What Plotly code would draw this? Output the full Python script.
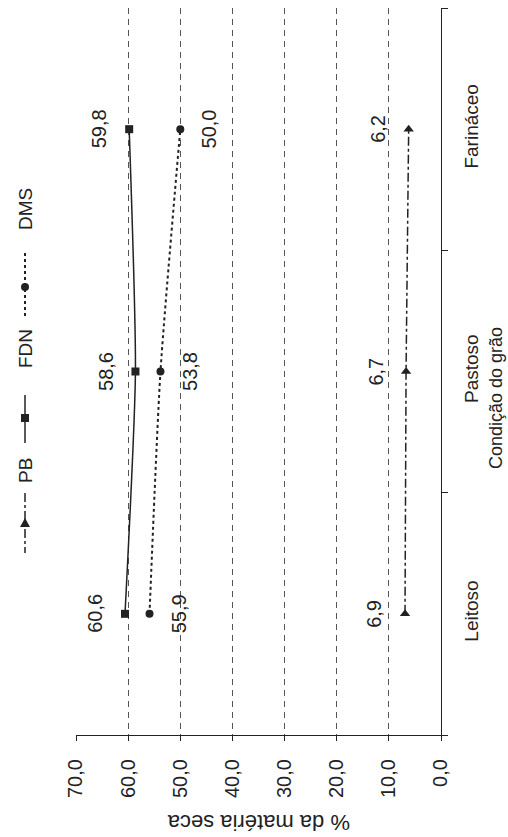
import plotly.graph_objects as go

categories = ["Leitoso", "Pastoso", "Farináceo"]
pb = [6.9, 6.7, 6.2]
fdn = [60.6, 58.6, 59.8]
dms = [55.9, 53.8, 50.0]
tick_vals = [0, 10, 20, 30, 40, 50, 60, 70]
tick_text = ["0,0", "10,0", "20,0", "30,0", "40,0", "50,0", "60,0", "70,0"]

W, H = 508, 837
L, R, T, B = 76, 441, 8, 735
def px(x):
    return (x - L) / (R - L)
def py(y):
    return (B - y) / (B - T)

FONT = "Arial, Liberation Sans, sans-serif"
INK = "#222222"

fig = go.Figure()
fig.add_trace(go.Scatter(x=fdn, y=categories, mode="lines+markers", name="FDN",
                         line=dict(color=INK, width=1.5, shape="spline", smoothing=0.6),
                         marker=dict(symbol="square", size=8, color=INK)))
fig.add_trace(go.Scatter(x=dms, y=categories, mode="lines+markers", name="DMS",
                         line=dict(color=INK, width=2, dash="dot", shape="spline", smoothing=0.6),
                         marker=dict(symbol="circle", size=8, color=INK)))
fig.add_trace(go.Scatter(x=pb, y=categories, mode="lines+markers", name="PB",
                         line=dict(color=INK, width=1.5, dash="dashdot"),
                         marker=dict(symbol="triangle-up", size=9, color=INK)))

annotations = []
def fmt(v):
    return f"{v:.1f}".replace(".", ",")
for vals, shift in ((fdn, -30), (dms, 29), (pb, -31)):
    for c, v in zip(categories, vals):
        annotations.append(dict(x=v, y=c, xref="x", yref="y", text=fmt(v), showarrow=False,
                                xanchor="center", yanchor="middle",
                                textangle=-90, xshift=shift, font=dict(size=20, color=INK, family=FONT)))

# axis titles
annotations.append(dict(x=0.5, y=py(823), xref="paper", yref="paper", text="% da matéria seca",
                        showarrow=False, textangle=180, xanchor="center", yanchor="middle",
                        font=dict(size=22, color=INK, family=FONT)))
annotations.append(dict(x=px(496), y=py(398), xref="paper", yref="paper", text="Condição do grão",
                        showarrow=False, textangle=-90, xanchor="center", yanchor="middle",
                        font=dict(size=18, color=INK, family=FONT)))

# legend (rotated)
LX = px(25)
for name, cy in (("DMS", 209), ("FDN", 349), ("PB", 471)):
    annotations.append(dict(x=LX, y=py(cy), xref="paper", yref="paper", text=name, showarrow=False,
                            xanchor="center", yanchor="middle",
                            textangle=-90, font=dict(size=19, color=INK, family=FONT)))

shapes = []
shapes.append(dict(type="line", xref="paper", yref="paper", x0=LX, x1=LX, y0=py(253), y1=py(318),
                   line=dict(color=INK, width=2, dash="dot")))
shapes.append(dict(type="circle", xref="paper", yref="paper", xsizemode="pixel", ysizemode="pixel",
                   xanchor=LX, yanchor=py(287), x0=-4, x1=4, y0=-4, y1=4,
                   fillcolor=INK, line=dict(color=INK, width=0)))
shapes.append(dict(type="line", xref="paper", yref="paper", x0=LX, x1=LX, y0=py(395), y1=py(443),
                   line=dict(color=INK, width=1.5)))
shapes.append(dict(type="rect", xref="paper", yref="paper", xsizemode="pixel", ysizemode="pixel",
                   xanchor=LX, yanchor=py(418), x0=-4, x1=4, y0=-4, y1=4,
                   fillcolor=INK, line=dict(color=INK, width=0)))
shapes.append(dict(type="line", xref="paper", yref="paper", x0=LX, x1=LX, y0=py(493), y1=py(553),
                   line=dict(color=INK, width=1.5, dash="dashdot")))
shapes.append(dict(type="path", xref="paper", yref="paper", xsizemode="pixel", ysizemode="pixel",
                   xanchor=LX, yanchor=py(523), path="M -5 -4 L 5 -4 L 0 5 Z",
                   fillcolor=INK, line=dict(color=INK, width=0)))

fig.update_layout(
    width=W, height=H,
    margin=dict(l=L, r=W - R, t=T, b=H - B, autoexpand=False),
    paper_bgcolor="white", plot_bgcolor="white",
    showlegend=False,
    font=dict(family=FONT, color=INK, size=18),
    annotations=annotations, shapes=shapes,
    xaxis=dict(range=[70, 0], tickvals=tick_vals, ticktext=tick_text, tickangle=-90,
               showgrid=True, gridcolor="#555555", griddash="6px,5px", gridwidth=1,
               showline=True, linecolor=INK, linewidth=1.2, ticks="outside", ticklen=5,
               tickcolor=INK, zeroline=False, ticklabelstandoff=10, automargin=False,
               tickfont=dict(size=20, family=FONT, color=INK)),
    yaxis=dict(type="category", categoryorder="array", categoryarray=categories,
               range=[-0.5, 2.5], side="right", showgrid=False, zeroline=False,
               showline=True, linecolor=INK, linewidth=1.2, ticks="outside", ticklen=6,
               tickson="boundaries", tickcolor=INK, tickangle=-90, ticklabelstandoff=13,
               automargin=False, tickfont=dict(size=19, family=FONT, color=INK)),
)

fig.write_html("out.html", config={"displayModeBar": False},
               post_script="document.body.style.margin='0';document.body.style.overflow='hidden';")
